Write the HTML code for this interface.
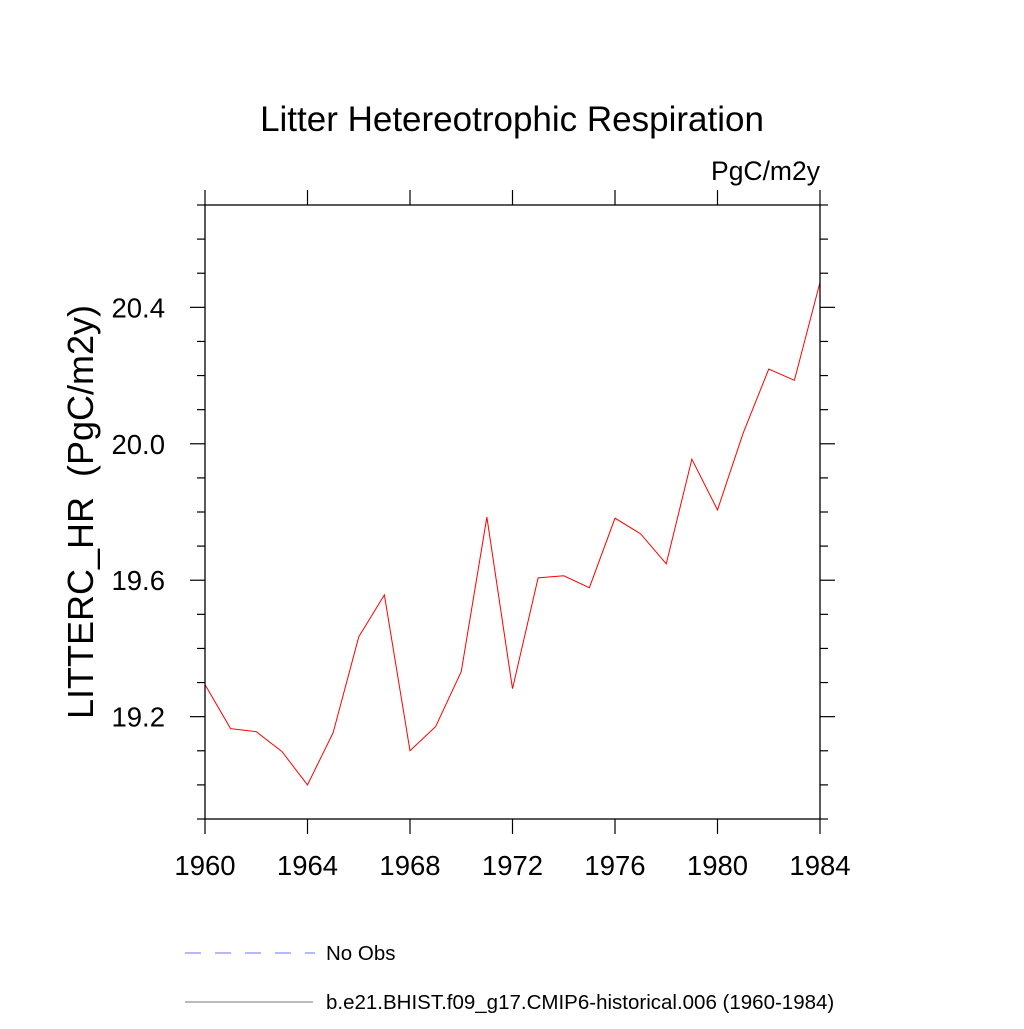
<!DOCTYPE html>
<html><head><meta charset="utf-8"><style>
body{margin:0;background:#fff}
svg text{font-family:"Liberation Sans",sans-serif;fill:#000}
</style></head><body>
<svg id="chart" width="1024" height="1024" viewBox="0 0 1024 1024" xmlns="http://www.w3.org/2000/svg">
<text x="512" y="131" font-size="35" text-anchor="middle">Litter Hetereotrophic Respiration</text>
<text x="820" y="180" font-size="26.5" text-anchor="end">PgC/m2y</text>
<text xml:space="preserve" transform="translate(93,512) rotate(-90)" font-size="36" text-anchor="middle">LITTERC_HR  (PgC/m2y)</text>
<g id="axes"></g>
<polyline id="series" fill="none" stroke="#ff0000" stroke-width="1"/>
<rect x="205" y="205" width="615" height="614" fill="none" stroke="#000" stroke-width="1.3"/>
<line x1="185" y1="953" x2="315" y2="953" stroke="#6f6fff" stroke-width="1" stroke-dasharray="16,14"/>
<text x="326" y="960" font-size="20.5">No Obs</text>
<line x1="185" y1="1002" x2="313" y2="1002" stroke="#777" stroke-width="1"/>
<text x="326" y="1009" font-size="20.5">b.e21.BHIST.f09_g17.CMIP6-historical.006 (1960-1984)</text>
</svg>
<script>
const years=[1960,1961,1962,1963,1964,1965,1966,1967,1968,1969,1970,1971,1972,1973,1974,1975,1976,1977,1978,1979,1980,1981,1982,1983,1984];
const values=[19.294,19.165,19.156,19.098,19.0,19.153,19.434,19.557,19.1,19.171,19.332,19.785,19.282,19.607,19.613,19.578,19.782,19.736,19.648,19.955,19.806,20.031,20.219,20.186,20.473];
const xTicks=[1960,1964,1968,1972,1976,1980,1984];
const yTicks=[19.2,19.6,20.0,20.4];
const yMinor=[18.9,19.0,19.1,19.3,19.4,19.5,19.7,19.8,19.9,20.1,20.2,20.3,20.5,20.6,20.7];
const X0=205,X1=820,Y0=819,Y1=205,xmin=1960,xmax=1984,ymin=18.9,ymax=20.7;
const sx=v=>X0+(v-xmin)/(xmax-xmin)*(X1-X0);
const sy=v=>Y0-(v-ymin)/(ymax-ymin)*(Y0-Y1);
const NS="http://www.w3.org/2000/svg";
const g=document.getElementById('axes');
function ln(x1,y1,x2,y2,name){const l=document.createElementNS(NS,'line');l.setAttribute('x1',x1);l.setAttribute('y1',y1);l.setAttribute('x2',x2);l.setAttribute('y2',y2);l.setAttribute('stroke','#000');l.setAttribute('stroke-width','1.2');


g.appendChild(l);}
function tx(x,y,s,anchor,name){const t=document.createElementNS(NS,'text');t.setAttribute('x',x);t.setAttribute('y',y);t.setAttribute('font-size','27.5');t.setAttribute('text-anchor',anchor);t.textContent=s;


g.appendChild(t);}
xTicks.forEach(v=>{const x=sx(v);ln(x,Y0,x,Y0+15,'x-tick');ln(x,Y1,x,Y1-15,'x-tick-top');tx(x,Y0+56,String(v),'middle','x-tick-label');});
yTicks.forEach(v=>{const y=sy(v);ln(X0-15,y,X0,y,'y-tick');ln(X1,y,X1+15,y,'y-tick-right');tx(X0-40,y+10,v.toFixed(1),'end','y-tick-label');});
yMinor.forEach(v=>{const y=sy(v);ln(X0-8,y,X0,y,'y-minor-tick');ln(X1,y,X1+8,y,'y-minor-tick-right');});
document.getElementById('series').setAttribute('points',years.map((y,i)=>sx(y)+','+sy(values[i])).join(' '));
</script>
</body></html>
